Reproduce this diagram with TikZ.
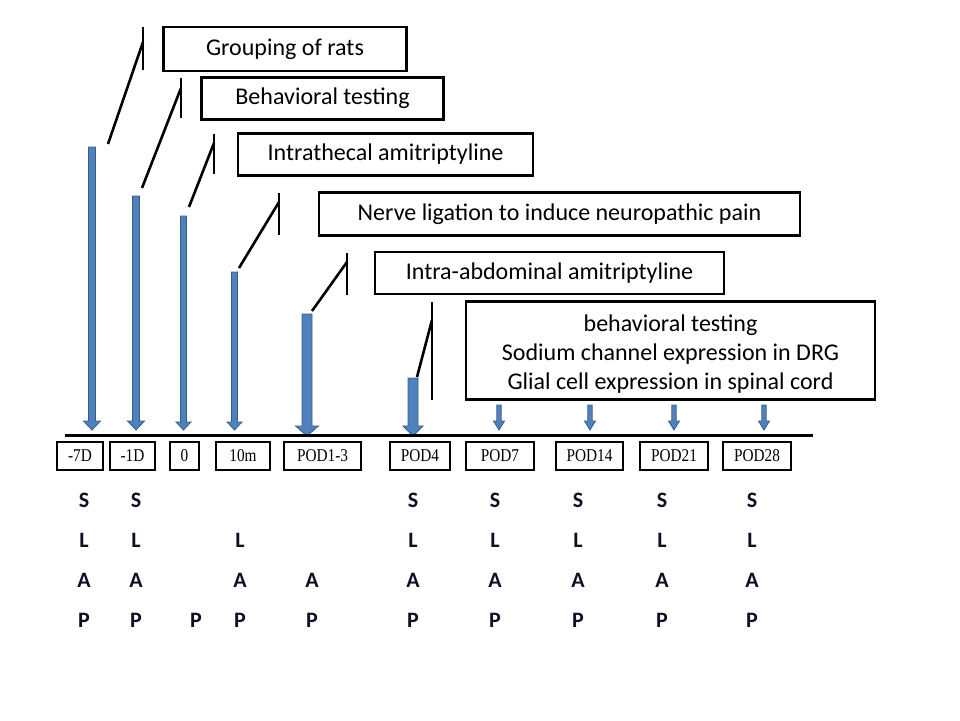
\documentclass[tikz,border=0pt]{standalone}
\usepackage{fontspec}
\setmainfont{Carlito}
\newfontfamily\tnr[FakeStretch=0.85]{Liberation Serif}
\definecolor{arrowfill}{HTML}{4F81BD}
\definecolor{arrowedge}{HTML}{385D8A}
\definecolor{lettercol}{HTML}{140C24}
\newcommand\blockarrow[6]{% x, ytop, ytip, half shaft, half head, head length
  \filldraw[fill=arrowfill, draw=arrowedge, line width=0.8pt, line join=miter]
    (#1-#4,#2) -- (#1+#4,#2) -- (#1+#4,#3-#6) -- (#1+#5,#3-#6) -- (#1,#3)
    -- (#1-#5,#3-#6) -- (#1-#4,#3-#6) -- cycle;}
\begin{document}
\begin{tikzpicture}[x=1pt,y=-1pt,
  tbox/.style={draw=black, line width=2.4pt, inner sep=0pt, align=center,
    font=\fontsize{24}{29}\selectfont},
  lbl/.style={draw=black, line width=2.8pt, inner sep=0pt, minimum height=28pt,
    font=\tnr\fontsize{18}{18}\selectfont},
  co/.style={draw=black, line width=2.6pt},
  letter/.style={font=\bfseries\fontsize{22}{22}\selectfont, text=lettercol, inner sep=0pt},
  tline/.style={draw=black, line width=3pt}]
\useasboundingbox (0,0) rectangle (960,720);

% text boxes
\node[tbox, minimum width=243pt, minimum height=44pt] (b1) at (285,49) {Grouping of rats};
\node[tbox, minimum width=242pt, minimum height=42pt] (b2) at (322.5,98.5) {Behavioral testing};
\node[tbox, minimum width=295pt, minimum height=42pt] (b3) at (385.5,154.5) {Intrathecal amitriptyline};
\node[tbox, minimum width=481pt, minimum height=43pt] (b4) at (559.5,214) {Nerve ligation to induce neuropathic pain};
\node[tbox, minimum width=349pt, minimum height=42pt] (b5) at (549.5,273) {Intra-abdominal amitriptyline};
\node[tbox, minimum width=409pt, minimum height=98pt] (b6) at (670.5,350.5) {};
\node[align=center, inner sep=0pt, font=\fontsize{24}{29}\selectfont] (b6t) at (670.5,354)
  {behavioral testing\\Sodium channel expression in DRG\\Glial cell expression in spinal cord};

% callout accent bars and leader lines
\coordinate (c1t) at (143,27);  \coordinate (c1b) at (143,70);  \coordinate (c1j) at (143,42);  \coordinate (c1e) at (108,144);
\coordinate (c2t) at (181,78);  \coordinate (c2b) at (181,118); \coordinate (c2j) at (181,88);  \coordinate (c2e) at (142,188);
\coordinate (c3t) at (214,134); \coordinate (c3b) at (214,174); \coordinate (c3j) at (214,143); \coordinate (c3e) at (189,207);
\coordinate (c4t) at (279,193); \coordinate (c4b) at (279,235); \coordinate (c4j) at (279,202); \coordinate (c4e) at (239,268);
\coordinate (c5t) at (347,253); \coordinate (c5b) at (347,295); \coordinate (c5j) at (347,262); \coordinate (c5e) at (312,311);
\coordinate (c6t) at (432,302); \coordinate (c6b) at (432,400); \coordinate (c6j) at (432,320); \coordinate (c6e) at (417,377);
\foreach \i in {1,...,6}{
  \draw[co] (c\i t) -- (c\i b);
  \draw[co] (c\i j) -- (c\i e);
}

% block arrows
\blockarrow{92}{147}{430}{3.5}{8.5}{9}
\blockarrow{136}{196}{430}{3.5}{8.5}{9}
\blockarrow{183.5}{216}{430}{3}{7.5}{8}
\blockarrow{234.5}{272}{430}{3}{7.5}{8}
\blockarrow{307}{314}{436}{5}{11.5}{10}
\blockarrow{413}{378}{436}{5}{10}{10}
\blockarrow{499}{405}{430}{2.2}{5.5}{9}
\blockarrow{590}{405}{430}{2.2}{5.5}{9}
\blockarrow{674}{405}{430}{2.2}{5.5}{9}
\blockarrow{764}{405}{430}{2.2}{5.5}{9}

% timeline
\coordinate (tl0) at (65,435);
\coordinate (tl1) at (813,435);
\draw[tline] (tl0) -- (tl1);

% time labels
\node[lbl, minimum width=46pt] (l1) at (80,456) {-7D};
\node[lbl, minimum width=45pt] (l2) at (132.5,456) {-1D};
\node[lbl, minimum width=29pt] (l3) at (184.5,456) {0};
\node[lbl, minimum width=54pt] (l4) at (243,456) {10m};
\node[lbl, minimum width=77pt] (l5) at (322.5,456) {POD1-3};
\node[lbl, minimum width=60pt] (l6) at (420,456) {POD4};
\node[lbl, minimum width=68pt] (l7) at (500,456) {POD7};
\node[lbl, minimum width=67pt] (l8) at (589.5,456) {POD14};
\node[lbl, minimum width=68pt] (l9) at (674,456) {POD21};
\node[lbl, minimum width=68pt] (l10) at (757,456) {POD28};

% S L A P letters
\foreach \x in {84,136,413,495,578,662,752} \node[letter] at (\x,500) {S};
\foreach \x in {84,136,240,413,495,578,662,752} \node[letter] at (\x,540) {L};
\foreach \x in {84,136,240,312,413,495,578,662,752} \node[letter] at (\x,580) {A};
\foreach \x in {84,136,196,240,312,413,495,578,662,752} \node[letter] at (\x,620) {P};
\end{tikzpicture}
\end{document}
